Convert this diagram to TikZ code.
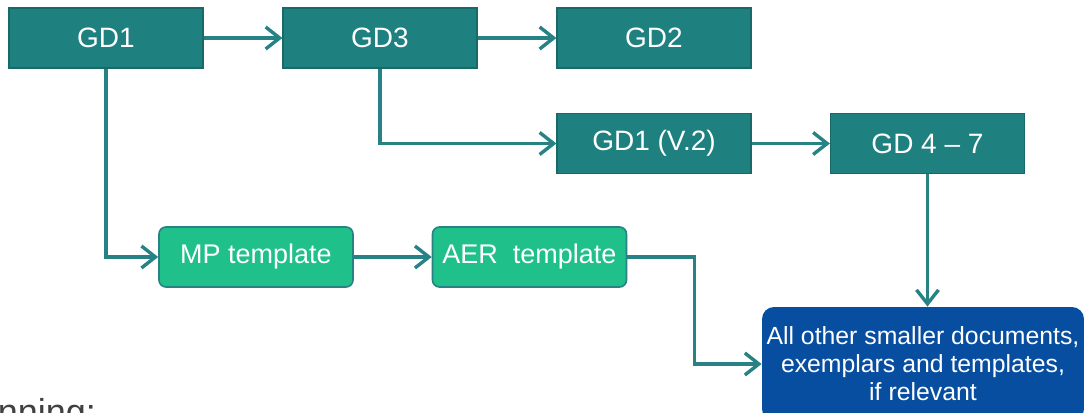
\documentclass[tikz,border=0pt]{standalone}
\usepackage{fontspec}
\setmainfont{Liberation Sans}
\usepackage{tikz}
\usetikzlibrary{positioning,calc,arrows.meta}

\definecolor{gdteal}{RGB}{31,128,128}
\definecolor{gdedge}{RGB}{26,105,105}
\definecolor{linkteal}{RGB}{38,130,132}
\definecolor{tplgreen}{RGB}{32,192,138}
\definecolor{docblue}{RGB}{8,78,160}
\definecolor{captgray}{RGB}{64,64,64}

\begin{document}
\begin{tikzpicture}[x=0.5pt,y=-0.5pt]
        \tikzset{
            guide/.style={draw=gdedge, line width=0.6pt, fill=gdteal, text=white, minimum width=97pt, minimum height=30pt, inner sep=0pt, font=\fontsize{14}{16}\selectfont},
            tmpl/.style={draw=linkteal, line width=0.8pt, fill=tplgreen, text=white, rounded corners=3.5pt, minimum width=97pt, minimum height=30pt, inner sep=0pt, font=\fontsize{13.5}{16}\selectfont},
            others/.style={fill=docblue, text=white, rounded corners=6pt, minimum width=161pt, minimum height=57pt, inner sep=0pt, align=center, font=\fontsize{12.4}{14}\selectfont},
            flow/.style={linkteal, line width=1.7pt, -{Straight Barb[length=7pt,width=11pt,line width=1.7pt]}}
        }
        \useasboundingbox (0,0) rectangle (1084,413);
        \clip (0,0) rectangle (1084,413);
        % guidance documents
        \node[guide] (gd1) at (106,38) {GD1};
        \node[guide] (gd3) at (380,38) {GD3};
        \node[guide] (gd2) at (654,38) {GD2};
        \node[guide] (gd1b) at (654,143.5) {GD1 (V.2)};
        \node[guide] (gd47) at (927.5,143.5) {GD 4 -- 7};
        % templates
        \node[tmpl] (mp) at (256,257) {MP template};
        \node[tmpl] (aer) at (529.5,257) {AER\ \ template};
        \node[others] (rest) at (923,364) {All other smaller documents,\\exemplars and templates,\\if relevant};
        \node[anchor=base east, text=captgray, font=\fontsize{18}{20}\selectfont] (capt) at (103,424) {anning:};
        % links
        \draw[flow] (gd1.east) -- (gd3.west);
        \draw[flow] (gd3.east) -- (gd2.west);
        \draw[flow] (gd3.south) |- (gd1b.west);
        \draw[flow] (gd1b.east) -- (gd47.west);
        \draw[flow] (gd1.south) |- (mp.west);
        \draw[flow] (mp.east) -- (aer.west);
        \draw[flow] (aer.east) -- ++(67,0) |- (rest.west);
        \draw[flow] (gd47.south) -- (gd47.south |- rest.north);
    \end{tikzpicture}
\end{document}
